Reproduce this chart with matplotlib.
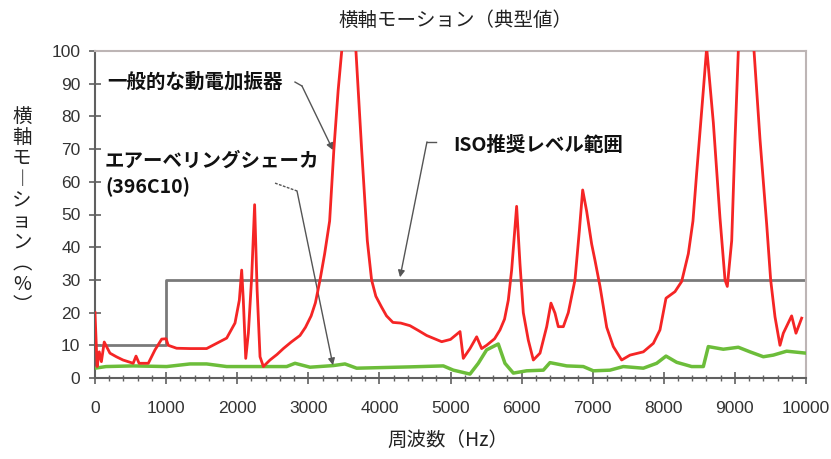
import matplotlib.pyplot as plt
from matplotlib.ticker import MultipleLocator

plt.rcParams['font.family'] = ['Noto Sans CJK JP', 'DejaVu Sans']

# 一般的な動電加振器 (red)
red_f = [0, 30, 60, 90, 130, 210, 300, 394, 537, 577, 620, 750, 844, 938, 1000,
         1030, 1148, 1336, 1570, 1711, 1852, 1969, 2030, 2063, 2086, 2120, 2157,
         2204, 2245, 2280, 2321, 2368, 2461, 2560, 2649, 2760, 2883, 2960, 3040,
         3100, 3165, 3230, 3300, 3360, 3420, 3470, 3570, 3670, 3750, 3830, 3890,
         3950, 4030, 4100, 4190, 4300, 4430, 4550, 4665, 4876, 5000, 5134, 5180,
         5274, 5368, 5438, 5508, 5620, 5696, 5760, 5813, 5860, 5930, 5977, 6024,
         6094, 6165, 6259, 6353, 6413, 6470, 6516, 6587, 6657, 6751, 6812, 6859,
         6915, 6985, 7032, 7103, 7197, 7290, 7407, 7525, 7712, 7853, 7946, 8031,
         8157, 8251, 8345, 8410, 8462, 8556, 8603, 8697, 8790, 8861, 8893, 8955,
         9002, 9048, 9160, 9269, 9353, 9447, 9503, 9564, 9634, 9681, 9798, 9859,
         9939]
red_v = [20, 3.5, 8, 5, 11, 7.6, 6.5, 5.5, 4.5, 6.7, 4.5, 4.5, 8.6, 11.9, 12,
         10, 9.1, 9, 9, 10.6, 12.2, 16.8, 23.8, 33, 23.8, 6, 13.7,
         31, 53, 27, 6.5, 3.5, 5.5, 7.2, 9, 11, 13, 15.5, 19,
         23, 30, 38, 48, 70, 88, 100, 135, 100, 70, 42, 30,
         25, 21.7, 19, 17, 16.8, 16, 14.5, 13, 11.1, 11.8, 14.2, 6,
         9, 12.6, 9, 10, 12, 14.7, 18, 23.8, 33, 52.5, 35, 20,
         11.6, 5.5, 7.6, 15.7, 22.9, 19.8, 15.7, 15.7, 20, 30, 45, 57.5,
         51, 41, 36, 28, 15.5, 9.6, 5.5, 7, 8, 10.6, 14.7, 24.4,
         26.4, 29.5, 38, 48, 62.6, 88, 101, 78, 49, 30, 28, 42,
         73, 100, 150, 100, 73, 47, 30, 18.7, 10, 13.7, 19, 13.7,
         18.3]

# エアーベリングシェーカ (green)
green_f = [0, 155, 537, 1008, 1336, 1570, 1852, 2415, 2696, 2813, 3024, 3352,
           3516, 3680, 4430, 4899, 5040, 5274, 5391, 5508, 5672, 5766, 5884,
           6071, 6306, 6399, 6634, 6868, 7009, 7243, 7430, 7712, 7900, 8031,
           8181, 8392, 8556, 8626, 8837, 9048, 9212, 9400, 9540, 9728, 10000]
green_v = [3, 3.5, 3.7, 3.5, 4.3, 4.3, 3.5, 3.5, 3.5, 4.5, 3.3, 3.8,
           4.3, 3, 3.4, 3.7, 2.4, 1.2, 4.5, 8.6, 10.4, 4.5, 1.5,
           2.2, 2.4, 4.7, 3.7, 3.5, 2.2, 2.4, 3.5, 3, 4.5, 6.7,
           4.8, 3.5, 3.5, 9.6, 8.8, 9.4, 8, 6.5, 7, 8.2, 7.6]

# ISO推奨レベル範囲 (gray step)
iso_f = [0, 1000, 1000, 10000]
iso_v = [10, 10, 30, 30]

fig = plt.figure(figsize=(8.31, 4.59), dpi=100)
ax = fig.add_axes([95/831, 1 - 378/459, 711/831, 327/459])

ax.plot(iso_f, iso_v, color='#7a7a7a', lw=2, zorder=2)
ax.plot(green_f, green_v, color='#6cbd3a', lw=2.5, zorder=3)
ax.plot(red_f, red_v, color='#f52525', lw=2, zorder=4)

ax.set_xlim(0, 10000)
ax.set_ylim(0, 100)
ax.xaxis.set_major_locator(MultipleLocator(1000))
ax.xaxis.set_minor_locator(MultipleLocator(200))
ax.yaxis.set_major_locator(MultipleLocator(10))

for s in ['top', 'right']:
    ax.spines[s].set_color('#bdb5b5')
    ax.spines[s].set_linewidth(1.5)
for s in ['left', 'bottom']:
    ax.spines[s].set_color('#606060')
    ax.spines[s].set_linewidth(1.5)

ax.tick_params(axis='x', which='major', direction='inout', length=9, width=1.2,
               color='#606060', pad=12)
ax.tick_params(axis='x', which='minor', direction='inout', length=5, width=1,
               color='#606060')
ax.tick_params(axis='y', which='major', direction='inout', length=9, width=1.2,
               color='#606060', pad=6)
for lab in ax.get_xticklabels() + ax.get_yticklabels():
    lab.set_fontfamily('Liberation Sans')
    lab.set_fontsize(12.5)
    lab.set_color('#333333')

fig.text(455/831, 1 - 20/459, '横軸モーション（典型値）', ha='center', va='center',
         fontsize=14, color='#222222')
fig.text(448/831, 1 - 440/459, '周波数（Hz）', ha='center', va='center',
         fontsize=14, color='#222222')
ylab = '\n'.join(['横', '軸', 'モ', '︱', 'シ', 'ョ', 'ン', '︵', '%', '︶'])
fig.text(22/831, 1 - 211/459, ylab, ha='center', va='center', fontsize=14,
         color='#222222', linespacing=1.0)

# callouts
txt = dict(fontsize=14, fontweight='bold', color='#111111', va='center', ha='left')
arr = dict(arrowstyle='-|>', color='#555555', lw=1, mutation_scale=10,
           shrinkA=0, shrinkB=0)

ax.text(169, 90.5, '一般的な動電加振器', **txt)
ax.plot([2813, 2911], [90.5, 89.3], color='#555555', lw=1)
ax.annotate('', xy=(3347, 69.7), xytext=(2911, 89.3), arrowprops=arr)

ax.text(141, 62.2, 'エアーベリングシェーカ\n(396C10)', linespacing=1.4, **txt)
ax.plot([2532, 2841], [59.6, 57.2], color='#555555', lw=1, ls=(0, (2, 1)))
ax.annotate('', xy=(3347, 3.9), xytext=(2841, 57.2), arrowprops=arr)

ax.text(5035, 71.3, 'ISO推奨レベル範囲', **txt)
ax.plot([4796, 4669], [72.2, 72.2], color='#555555', lw=1)
ax.annotate('', xy=(4290, 30.8), xytext=(4669, 72.2), arrowprops=arr)

fig.savefig('out.png', dpi=100)
